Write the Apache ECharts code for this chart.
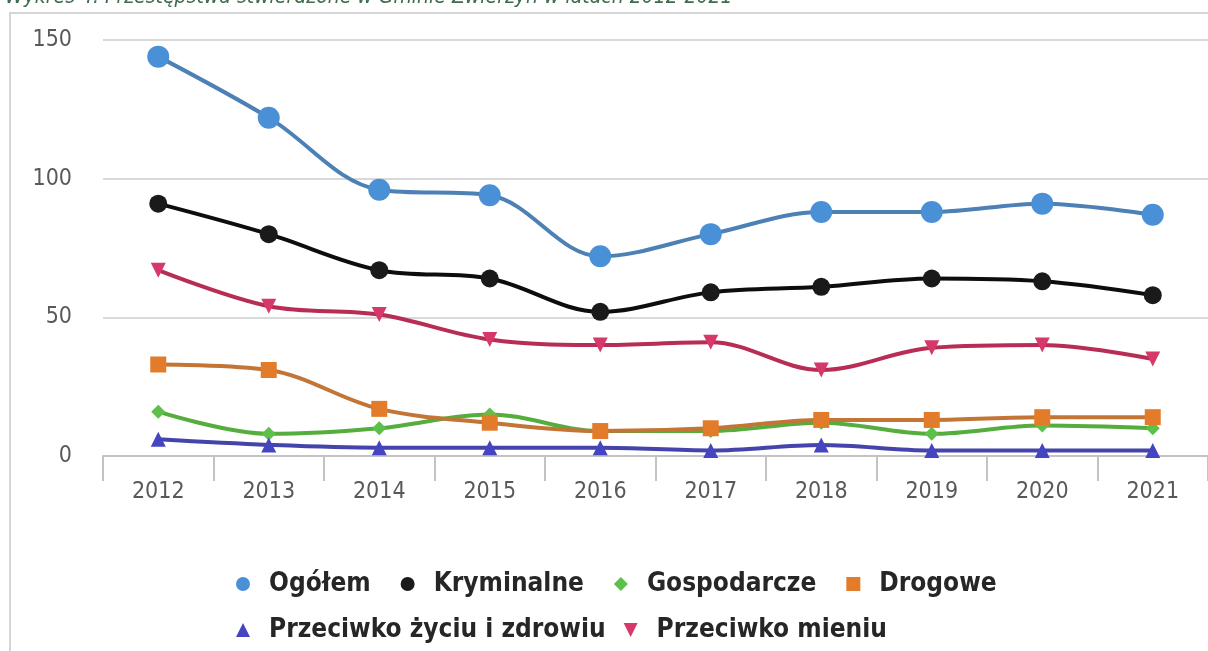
<!DOCTYPE html>
<html>
<head>
<meta charset="utf-8">
<title>Przestępstwa stwierdzone w Gminie Zwierzyn</title>
<script src="https://cdn.jsdelivr.net/npm/echarts@6/dist/echarts.min.js"></script>
<style>
  html, body { margin: 0; padding: 0; background: #fff; }
  #chart { width: 1208px; height: 651px; }
</style>
</head>
<body>
<div id="chart"></div>
<script>
const years = ['2012', '2013', '2014', '2015', '2016', '2017', '2018', '2019', '2020', '2021']
const ogolem = [144, 122, 96, 94, 72, 80, 88, 88, 91, 87]
const kryminalne = [91, 80, 67, 64, 52, 59, 61, 64, 63, 58]
const gospodarcze = [16, 8, 10, 15, 9, 9, 12, 8, 11, 10]
const drogowe = [33, 31, 17, 12, 9, 10, 13, 13, 14, 14]
const zycie = [6, 4, 3, 3, 3, 2, 4, 2, 2, 2]
const mienie = [67, 54, 51, 42, 40, 41, 31, 39, 40, 35]

const font = '"DejaVu Sans Condensed", "DejaVu Sans", sans-serif'

const chart = echarts.init(document.getElementById('chart'))

function line(name, data, color, lineColor, symbol, size, extra) {
  return Object.assign({
    name: name,
    type: 'line',
    data: data,
    smooth: 0.35,
    symbol: symbol,
    symbolSize: size,
    lineStyle: { color: lineColor, width: 4 },
    itemStyle: { color: color, borderWidth: 0 },
  }, extra || {})
}

const legendText = {
  fontFamily: font,
  fontSize: 26,
  fontWeight: 'bold',
  color: '#262626',
  padding: [0, 0, 0, 14],
}

chart.setOption({
  animation: false,
  title: {
    text: 'Wykres 4. Przestępstwa stwierdzone w Gminie Zwierzyn w latach 2012-2021',
    left: 0,
    top: -18,
    textStyle: { fontFamily: font, fontStyle: 'italic', fontWeight: 'normal', fontSize: 21, color: '#3f6b4c' },
  },
  graphic: [{
    type: 'rect',
    shape: { x: 10, y: 13, width: 1400, height: 800 },
    style: { fill: 'none', stroke: '#d6d6d6', lineWidth: 2 },
    silent: true,
  }],
  grid: { left: 103, right: 0, top: 40, bottom: 195 },
  legend: [{
    left: 231,
    top: 566,
    itemGap: 30,
    itemWidth: 14,
    itemHeight: 14,
    data: [
      { name: 'Ogółem', icon: 'circle' },
      { name: 'Kryminalne', icon: 'circle' },
      { name: 'Gospodarcze', icon: 'diamond' },
      { name: 'Drogowe', icon: 'rect' },
    ],
    textStyle: legendText,
  }, {
    left: 231,
    top: 612,
    itemGap: 18,
    itemWidth: 14,
    itemHeight: 14,
    data: [
      { name: 'Przeciwko życiu i zdrowiu', icon: 'triangle' },
      { name: 'Przeciwko mieniu', icon: 'path://M0,0L12,0L6,12Z' },
    ],
    textStyle: legendText,
  }],
  xAxis: {
    type: 'category',
    data: years,
    boundaryGap: true,
    axisLine: { show: true, lineStyle: { color: '#c3c3c3', width: 2 } },
    axisTick: { show: true, interval: 0, alignWithLabel: false, length: 25, lineStyle: { color: '#c3c3c3', width: 2 } },
    axisLabel: { fontFamily: font, fontSize: 23, color: '#595959', margin: 25 },
  },
  yAxis: {
    type: 'value',
    min: 0,
    max: 150,
    interval: 50,
    axisLine: { show: false },
    axisTick: { show: false },
    axisLabel: { fontFamily: font, fontSize: 23, color: '#595959', margin: 31 },
    splitLine: { lineStyle: { color: '#d9d9d9', width: 2 } },
  },
  series: [
    line('Ogółem', ogolem, '#4a90d6', '#4d80b5', 'circle', 22),
    line('Kryminalne', kryminalne, '#1a1a1a', '#0d0d0d', 'circle', 18),
    line('Gospodarcze', gospodarcze, '#5cc04a', '#55ad3e', 'diamond', 14),
    line('Drogowe', drogowe, '#e37c2a', '#c27535', 'rect', 16),
    line('Przeciwko życiu i zdrowiu', zycie, '#4545c2', '#4444aa', 'triangle', 15),
    line('Przeciwko mieniu', mienie, '#d6386a', '#b82d55', 'triangle', 15, { symbolRotate: 180 }),
  ],
})
</script>
</body>
</html>
